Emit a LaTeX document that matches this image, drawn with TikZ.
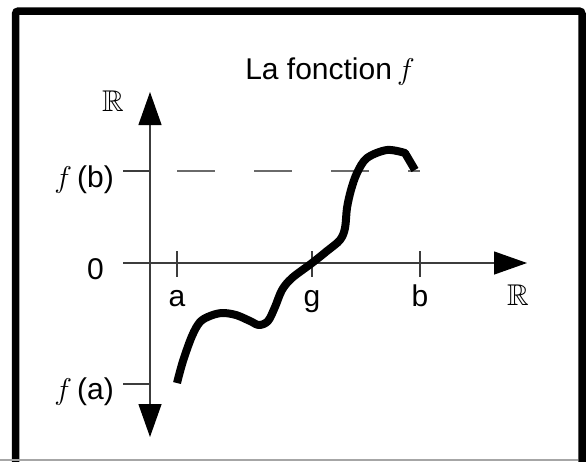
\documentclass[tikz,border=0pt]{standalone}
\usepackage{fix-cm}
\DeclareFontFamily{U}{msb}{}
\DeclareFontShape{U}{msb}{m}{n}{<-> msbm10}{}
\usepackage{amsmath,amssymb}
\usepackage{fontspec}
\setmainfont{Liberation Sans}
\usetikzlibrary{arrows.meta}
\definecolor{cAxis}{HTML}{3C3C3C}
\definecolor{cDash}{HTML}{6A6A6A}
\tikzset{
  frm/.style  ={draw=black,line width=7.5pt,rounded corners=3pt},
  axln/.style ={draw=cAxis,line width=1.3pt},
  tk/.style   ={draw=cAxis,line width=1.3pt},
  dsh/.style  ={draw=cDash,line width=1.3pt,dash pattern=on 38pt off 39pt},
  crv/.style  ={draw=black,line width=8pt},
  lbl/.style  ={font=\fontsize{30}{36}\selectfont,inner sep=0pt},
  big/.style  ={-{Triangle[length=33pt,width=23pt,color=black]}},
  bigb/.style ={{Triangle[length=33pt,width=23pt,color=black]}-{Triangle[length=33pt,width=23pt,color=black]}},
}
\begin{document}
\begin{tikzpicture}[x=1pt,y=-1pt]
\useasboundingbox (0,0) rectangle (586,461);
\clip (0,0) rectangle (586,461);

% ===== frame =============================================================
\draw[frm] (15.5,11) rectangle (582,480);
\draw[draw=black!35,line width=1.5pt] (0,460) -- (578,460);

% ===== axes ==============================================================
\coordinate (ybot) at (150,437);
\coordinate (ytop) at (150,92);
\coordinate (xl)   at (123,263);
\coordinate (xr)   at (527,263);
\draw[axln,bigb] (ybot) -- (ytop);
\draw[axln,big] (xl) -- (xr);

% ticks on the horizontal axis
\foreach \nm/\xx in {a/177,g/312,b/420}{
  \draw[tk] (\xx,251) -- (\xx,277);
  \node[lbl,anchor=base] (l\nm) at (\xx,306) {\nm};
}
% ticks on the vertical axis
\draw[tk] (123,171) -- (150,171);
\draw[tk] (123,384) -- (150,384);
\draw[dsh] (177,171) -- (420,171);

% ===== labels ============================================================
\node[lbl,anchor=base] (ttl) at (330,79) {La fonction\,$f$};
\node[lbl,anchor=base east] (fb) at (114,187) {$f$\,(b)};
\node[lbl,anchor=base east] (fa) at (114,399) {$f$\,(a)};
\node[lbl,anchor=base east] (zr) at (104,279) {0};
\node[lbl,anchor=base] (ry) at (113,111) {$\mathbb{R}$};
\node[lbl,anchor=base] (rx) at (518,305) {$\mathbb{R}$};

% ===== the curve =========================================================
\draw[crv,line join=round] plot[smooth,tension=0.55] coordinates {
  (177,383) (183,361) (192,336) (200,322) (210,316) (222,313) (236,315)
  (250,321) (259,325) (268,321) (275,307) (282,290) (292,278) (312,263)
  (327,251) (340,240) (345,228) (347,208) (351,190) (357,173) (367,158)
  (387,150) (405,153)} -- (415,170);
\end{tikzpicture}
\end{document}
